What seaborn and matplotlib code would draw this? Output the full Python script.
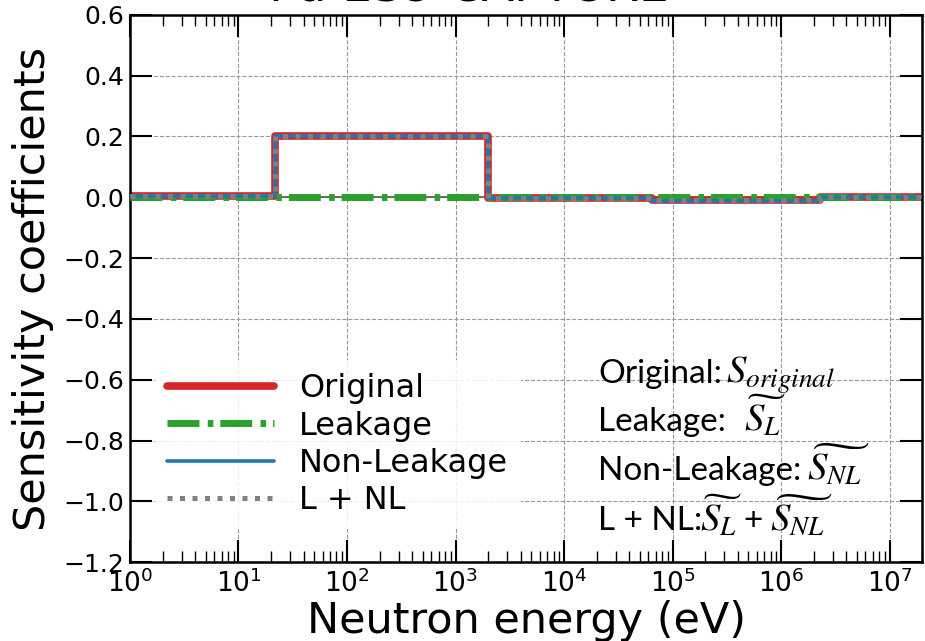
import numpy as np
import pandas as pd
import matplotlib
matplotlib.use("Agg")
import matplotlib.pyplot as plt
import seaborn as sns

# ---- data (step functions: values hold from each edge to the next) ----
energy_edges = [1.0, 21.5, 2000.0, 6.5e4, 2.3e6, 2.0e7]
s_original   = [0.003, 0.200, -0.002, -0.010, 0.002, 0.002]
s_leakage    = [0.000, 0.000, 0.002, 0.002, 0.000, 0.000]
s_nonleakage = [0.003, 0.200, -0.004, -0.012, 0.002, 0.002]
s_sum        = [0.003, 0.200, -0.002, -0.010, 0.002, 0.002]

y_ticks = [-1.2, -1.0, -0.8, -0.6, -0.4, -0.2, 0.0, 0.2, 0.4, 0.6]
x_ticks = [1e0, 1e1, 1e2, 1e3, 1e4, 1e5, 1e6, 1e7]

sns.set_theme(style="white")
plt.rcParams["font.family"] = ["DejaVu Sans"]
plt.rcParams["mathtext.fontset"] = "stix"
plt.rcParams["text.color"] = "black"
plt.rcParams["axes.labelcolor"] = "black"
plt.rcParams["xtick.color"] = "black"
plt.rcParams["ytick.color"] = "black"

fig = plt.figure(figsize=(9.25, 6.41), dpi=100)
ax = fig.add_axes([0.1405, 0.123, 0.8565, 0.854])

ax.axhline(0, color="#555555", lw=1.2, zorder=1)

sns.lineplot(x=energy_edges, y=s_original, ax=ax, drawstyle="steps-post",
             color="#d62728", lw=5.5, label="Original", zorder=2)
sns.lineplot(x=energy_edges, y=s_leakage, ax=ax, drawstyle="steps-post",
             color="#2ca02c", lw=5, linestyle=(0, (4.6, 1.2, 0.8, 1.0)),
             label="Leakage", zorder=3)
sns.lineplot(x=energy_edges, y=s_nonleakage, ax=ax, drawstyle="steps-post",
             color="#1f77b4", lw=2.6, label="Non-Leakage", zorder=4)
sns.lineplot(x=energy_edges, y=s_sum, ax=ax, drawstyle="steps-post",
             color="#808080", lw=3.6, linestyle=(0, (1, 1.5)), label="L + NL", zorder=5)

ax.set_xscale("log")
ax.set_xlim(1, 2e7)
ax.set_ylim(-1.2, 0.6)
ax.set_yticks(y_ticks)
ax.set_yticklabels([f"{v:.1f}".replace("-", "\u2212") for v in y_ticks])
ax.set_xticks(x_ticks)

ax.grid(True, which="major", color="#999999", linestyle="--", lw=0.8)
ax.tick_params(which="major", direction="in", length=16, width=1.5,
               top=True, right=True, bottom=True, left=True, labelsize=18, pad=4)
ax.tick_params(which="minor", direction="in", length=8, width=1,
               top=True, right=True, bottom=True, left=False)
ax.tick_params(axis="x", which="major", labelsize=19, pad=5)
for sp in ax.spines.values():
    sp.set_color("black")
    sp.set_linewidth(1.8)

ax.set_xlabel("Neutron energy (eV)", fontsize=31, labelpad=2)
ax.set_ylabel("Sensitivity coefficients", fontsize=31, labelpad=7)
fig.text(0.507, 0.998, "Pu-239 CAPTURE", fontsize=34, ha="center", va="baseline")

leg = ax.legend(loc="lower left", bbox_to_anchor=(0.011, 0.031), fontsize=23,
                handlelength=3.35, handletextpad=0.78, labelspacing=0.2,
                frameon=True, framealpha=0.85, edgecolor="none", facecolor="white")

txt_kw = dict(transform=ax.transAxes, fontsize=24, family=["Lato", "DejaVu Sans"],
              ha="left", va="baseline")
mth_kw = dict(transform=ax.transAxes, fontsize=28, family=["Lato", "DejaVu Sans"],
              ha="left", va="baseline")
ax.text(0.591, 0.327, "Original:", **txt_kw)
ax.text(0.752, 0.327, r"$S_{original}$", **mth_kw)
ax.text(0.591, 0.240, "Leakage:", **txt_kw)
ax.text(0.775, 0.240, r"$\widetilde{S_L}$", **mth_kw)
ax.text(0.591, 0.150, "Non-Leakage:", **txt_kw)
ax.text(0.855, 0.150, r"$\widetilde{S_{NL}}$", **mth_kw)
ax.text(0.591, 0.058, "L + NL:", **txt_kw)
ax.text(0.719, 0.058, r"$\widetilde{S_L}$", **mth_kw)
ax.text(0.774, 0.058, "+", **txt_kw)
ax.text(0.808, 0.058, r"$\widetilde{S_{NL}}$", **mth_kw)

fig.savefig("out.png", dpi=100)
